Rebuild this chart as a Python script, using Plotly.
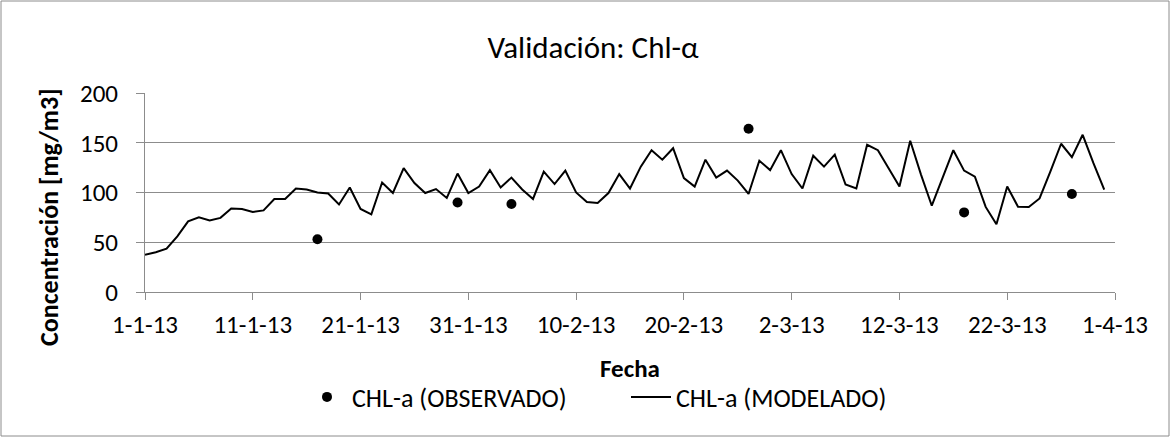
import plotly.graph_objects as go
import pandas as pd

# Modelled daily series, 1-1-13 .. 31-3-13
model_start = "2013-01-01"
model_values = [
    37.5, 40, 43.5, 56, 71, 75, 72, 74.5, 84, 83.5,
    80.5, 82, 93.5, 93.5, 104, 103, 100, 99, 88, 105,
    83.5, 78, 110, 99.5, 124.5, 109.5, 99.5, 103.5, 94.5, 119,
    99.5, 106, 122.5, 105, 115, 103, 93.5, 121, 108.5, 122,
    100, 90.5, 89.5, 99.5, 118.5, 104, 126, 142.5, 133, 144.5,
    114.5, 106, 133, 115, 122, 112, 98.5, 132, 122.5, 142.5,
    118.5, 104, 137, 126, 138, 108, 104, 148, 142.5, 124.5,
    106, 152, 118, 86.7, 114.5, 142.5, 122, 116, 85.5, 68,
    106, 85.7, 85.5, 94, 121, 149, 135.5, 158, 129.5, 103,
]

obs_dates = ["2013-01-17", "2013-01-30", "2013-02-04", "2013-02-26", "2013-03-18", "2013-03-28"]
obs_values = [53, 90, 88.5, 164, 80, 98.5]

tick_dates = ["2013-01-01", "2013-01-11", "2013-01-21", "2013-01-31", "2013-02-10",
              "2013-02-20", "2013-03-02", "2013-03-12", "2013-03-22", "2013-04-01"]
tick_labels = ["1-1-13", "11-1-13", "21-1-13", "31-1-13", "10-2-13",
               "20-2-13", "2-3-13", "12-3-13", "22-3-13", "1-4-13"]

model_dates = pd.date_range(model_start, periods=len(model_values), freq="D")

FONT = "Carlito, Calibri, Lato, sans-serif"
GRID = "#8c8c8c"

fig = go.Figure()
fig.add_trace(go.Scatter(
    x=obs_dates, y=obs_values, mode="markers", name="CHL-a (OBSERVADO)",
    marker=dict(color="black", size=10),
))
fig.add_trace(go.Scatter(
    x=model_dates, y=model_values, mode="lines", name="CHL-a (MODELADO)",
    line=dict(color="black", width=2),
))

W, H = 1171, 438
L, R, T, B = 145, 56, 93, 146
pw, ph = W - L - R, H - T - B


def px_x(x):
    return (x - L) / pw


def px_y(y):
    return (H - B - y) / ph


fig.update_layout(
    width=W, height=H,
    margin=dict(l=L, r=R, t=T, b=B),
    paper_bgcolor="white", plot_bgcolor="white",
    font=dict(family=FONT, size=25, color="black"),
    title=dict(text="Validación: Chl-α", x=593 / W, xref="container", xanchor="center",
               y=1 - 47 / H, yref="container", yanchor="middle", font=dict(size=31)),
    showlegend=True,
    legend=dict(orientation="h", x=px_x(302), xanchor="left", y=px_y(397),
                yanchor="middle", font=dict(size=26), itemwidth=40,
                entrywidth=269, entrywidthmode="pixels",
                traceorder="normal", tracegroupgap=0),
    xaxis=dict(
        range=["2013-01-01", "2013-04-01"],
        tickvals=tick_dates, ticktext=tick_labels,
        showgrid=False, showline=True, linecolor=GRID, linewidth=1,
        ticks="outside", ticklen=7, tickcolor=GRID, tickfont=dict(size=25),
        ticklabelstandoff=3,
        zeroline=False,
    ),
    yaxis=dict(
        range=[0, 200], tickvals=[0, 50, 100, 150, 200],
        showgrid=True, gridcolor=GRID, gridwidth=1,
        showline=True, linecolor=GRID, linewidth=1,
        ticks="outside", ticklen=8, tickcolor=GRID, ticklabelstandoff=13,
        tickfont=dict(size=25),
        zeroline=False,
    ),
    annotations=[
        dict(text="<b>Fecha</b>", xref="paper", yref="paper", x=px_x(630), y=px_y(368),
             xanchor="center", yanchor="middle", showarrow=False, font=dict(size=25)),
        dict(text="<b>Concentración [mg/m3]</b>", xref="paper", yref="paper",
             x=px_x(49), y=px_y(217), xanchor="center", yanchor="middle",
             textangle=-90, showarrow=False, font=dict(size=26)),
    ],
    shapes=[dict(
        type="rect", xref="paper", yref="paper",
        x0=px_x(1), x1=px_x(W - 2),
        y0=px_y(H - 2), y1=px_y(1),
        line=dict(color=GRID, width=1), fillcolor="rgba(0,0,0,0)", layer="below",
    )],
)

fig.write_html("out.html", config={"displayModeBar": False},
               post_script="document.body.style.margin='0px';")
